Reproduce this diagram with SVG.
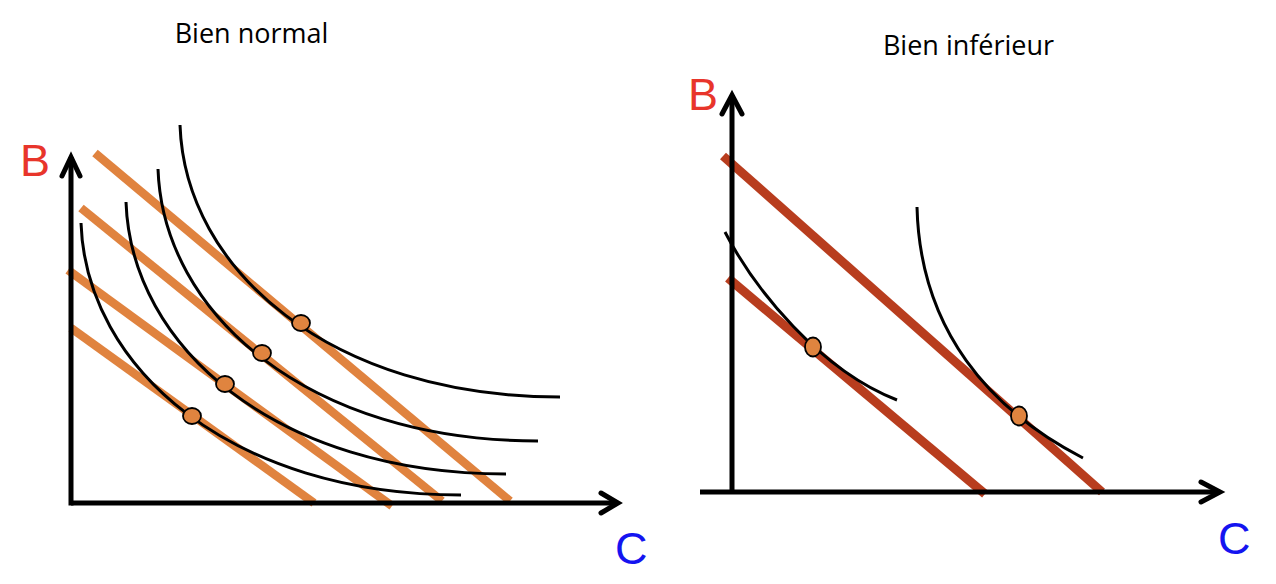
<svg xmlns="http://www.w3.org/2000/svg" width="1276" height="584" viewBox="0 0 1276 584">
<style>
.title{font-family:"Open Sans","Liberation Sans",sans-serif;font-size:27px;fill:#000}
.lblB{font-family:"Liberation Sans",Arial,sans-serif;font-size:45px;fill:#E8352B}
.lblC{font-family:"Liberation Sans",Arial,sans-serif;font-size:45px;fill:#1414F0}
.axis{stroke:#000;stroke-width:5;fill:none;stroke-linecap:butt}
.head{stroke:#000;stroke-width:5;fill:none;stroke-linecap:round;stroke-linejoin:miter}
.curve{stroke:#000;stroke-width:3;fill:none}
.bud{stroke:#E0833F;stroke-width:8.5;fill:none;stroke-linecap:butt}
.bud2{stroke:#B83D1E;stroke-width:9;fill:none;stroke-linecap:butt}
.dot{fill:#E0843F;stroke:#000;stroke-width:1.8}
</style>
<defs>
<path id="ic" d="M0,0 C5,145 150,272 380,272"/>
</defs>
<rect width="1276" height="584" fill="#fff"/>

<g id="panel-normal">
  <text class="title" x="251.5" y="43" text-anchor="middle">Bien normal</text>
  <g id="budget-lines-normal">
    <line class="bud" x1="95" y1="153" x2="510" y2="501"/>
    <line class="bud" x1="81" y1="208" x2="442" y2="501"/>
    <line class="bud" x1="68" y1="270" x2="392" y2="506"/>
    <line class="bud" x1="71" y1="328" x2="314" y2="503"/>
  </g>
  <g id="indiff-normal">
    <use href="#ic" class="curve" transform="translate(180,125)"/>
    <use href="#ic" class="curve" transform="translate(158,169)"/>
    <use href="#ic" class="curve" transform="translate(126,202)"/>
    <use href="#ic" class="curve" transform="translate(81,223)"/>
  </g>
  <g id="axes-normal">
    <line class="axis" x1="71" y1="505.5" x2="71" y2="157"/>
    <polyline class="head" points="62,176 71,157 80,176"/>
    <line class="axis" x1="71" y1="503" x2="618" y2="503"/>
    <polyline class="head" points="601,493 618,503 601,513"/>
    <text class="lblB" x="20" y="176">B</text>
    <text class="lblC" x="615" y="564">C</text>
  </g>
  <g id="optima-normal">
    <ellipse class="dot" cx="301" cy="323" rx="9" ry="8"/>
    <ellipse class="dot" cx="262" cy="353" rx="9" ry="8"/>
    <ellipse class="dot" cx="225" cy="384" rx="9" ry="8"/>
    <ellipse class="dot" cx="192" cy="416" rx="9" ry="8"/>
  </g>
</g>

<g id="panel-inferieur">
  <text class="title" x="968.5" y="55" text-anchor="middle">Bien inférieur</text>
  <g id="budget-lines-inf">
    <line class="bud2" x1="723" y1="156" x2="1102" y2="492"/>
    <line class="bud2" x1="728" y1="278" x2="985" y2="494"/>
  </g>
  <g id="indiff-inf">
    <path class="curve" d="M725,232 C755,290 820,370 897,400"/>
    <path class="curve" d="M917,207 C920,330 990,410 1083,458"/>
  </g>
  <g id="axes-inf">
    <line class="axis" x1="732" y1="494" x2="732" y2="95"/>
    <polyline class="head" points="722,114 732,95 742,114"/>
    <line class="axis" x1="700" y1="492" x2="1220" y2="492"/>
    <polyline class="head" points="1201,482 1220,492 1201,502"/>
    <text class="lblB" x="688" y="110">B</text>
    <text class="lblC" x="1218" y="554">C</text>
  </g>
  <g id="optima-inf">
    <ellipse class="dot" cx="813" cy="347" rx="8" ry="9.5"/>
    <ellipse class="dot" cx="1019" cy="416" rx="8" ry="9.5"/>
  </g>
</g>
</svg>
